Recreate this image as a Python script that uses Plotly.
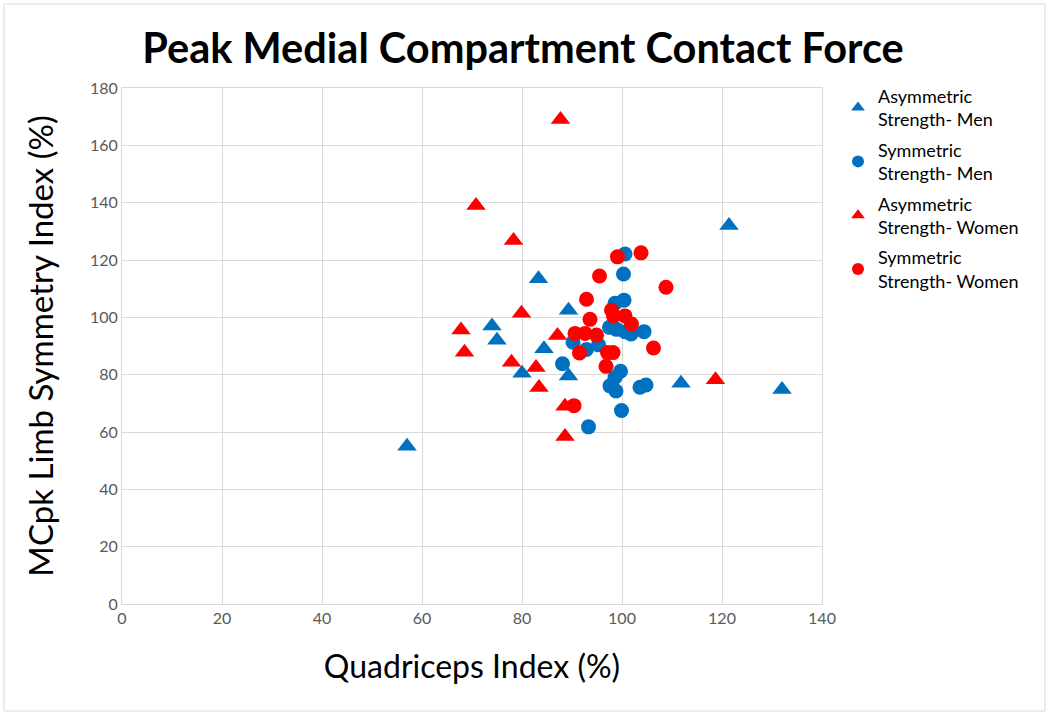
import plotly.graph_objects as go

# Asymmetric Strength - Men (blue triangles)
asym_men_x = [57.0, 74.0, 75.0, 80.0, 83.3, 84.4, 89.3, 89.3, 111.8, 121.4, 132.0]
asym_men_y = [55.0, 97.0, 92.0, 80.5, 113.5, 89.0, 102.5, 79.5, 77.0, 132.0, 74.8]

# Symmetric Strength - Men (blue circles)
sym_men_x = [88.1, 93.3, 90.2, 92.9, 95.3, 97.5, 98.9, 100.6, 101.8, 104.4, 98.6, 100.4,
             100.3, 100.6, 99.7, 98.6, 97.6, 98.8, 103.6, 104.8, 99.9]
sym_men_y = [83.8, 61.8, 91.3, 88.8, 90.4, 96.5, 95.8, 95.0, 94.2, 95.0, 104.9, 106.0,
             115.1, 122.1, 81.2, 79.0, 76.1, 74.3, 75.6, 76.4, 67.5]

# Asymmetric Strength - Women (red triangles)
asym_women_x = [67.8, 68.5, 70.8, 78.3, 79.9, 77.9, 82.8, 83.4, 87.1, 87.7, 88.6, 88.6, 118.7]
asym_women_y = [95.6, 87.8, 139.0, 126.8, 101.4, 84.3, 82.5, 75.5, 93.7, 169.0, 69.0, 58.4, 78.2]

# Symmetric Strength - Women (red circles)
sym_women_x = [99.1, 103.8, 95.5, 108.8, 92.9, 97.9, 98.3, 100.6, 93.6, 101.9, 90.6, 92.6,
               94.9, 91.5, 97.1, 98.2, 106.3, 96.8, 90.4]
sym_women_y = [121.1, 122.5, 114.4, 110.5, 106.3, 102.5, 100.5, 100.5, 99.3, 97.7, 94.4, 94.4,
               93.8, 87.6, 87.7, 87.7, 89.3, 82.9, 69.2]

names = ["Asymmetric<br>Strength- Men", "Symmetric<br>Strength- Men",
         "Asymmetric<br>Strength- Women", "Symmetric<br>Strength- Women"]

BLUE = "#0070C0"
RED = "#FF0000"

fig = go.Figure()
fig.add_trace(go.Scatter(x=asym_men_x, y=asym_men_y, mode="markers", name=names[0], legendgroup="g1",
                         marker=dict(symbol="triangle-up", size=17, color=BLUE)))
fig.add_trace(go.Scatter(x=sym_men_x, y=sym_men_y, mode="markers", name=names[1], legendgroup="g2",
                         marker=dict(symbol="circle", size=15, color=BLUE)))
fig.add_trace(go.Scatter(x=asym_women_x, y=asym_women_y, mode="markers", name=names[2], legendgroup="g3",
                         marker=dict(symbol="triangle-up", size=17, color=RED)))
fig.add_trace(go.Scatter(x=sym_women_x, y=sym_women_y, mode="markers", name=names[3], legendgroup="g4",
                         marker=dict(symbol="circle", size=15, color=RED)))

L, R, T, B = 122, 228, 88, 112
W, H = 1050, 716
pw, ph = W - L - R, H - T - B

fig.update_layout(
    width=W, height=H,
    margin=dict(l=L, r=R, t=T, b=B),
    paper_bgcolor="white", plot_bgcolor="white",
    font=dict(family="Lato, Open Sans, sans-serif", color="#000000"),
    title=dict(text="<b>Peak Medial Compartment Contact Force</b>",
               x=523 / W, xanchor="center", y=1 - 48 / H, yanchor="middle",
               font=dict(size=41.5, color="#000000")),
    showlegend=True,
    legend=dict(x=(838 - L) / pw, y=1.02, xanchor="left", yanchor="top",
                font=dict(size=18, color="#000000"), tracegroupgap=4,
                bgcolor="rgba(0,0,0,0)", itemsizing="constant"),
    xaxis=dict(range=[0, 140], dtick=20, showgrid=True, gridcolor="#D9D9D9", gridwidth=1,
               zeroline=False, showline=True, linecolor="#D9D9D9", mirror=True,
               ticks="", tickfont=dict(size=16, color="#595959"),
               title=dict(text="Quadriceps Index (%)", font=dict(size=32, color="#000000"),
                          standoff=29)),
    yaxis=dict(range=[0, 180], dtick=20, showgrid=True, gridcolor="#D9D9D9", gridwidth=1,
               zeroline=False, showline=True, linecolor="#D9D9D9", mirror=True,
               ticks="", tickfont=dict(size=16, color="#595959"),
               title=dict(text="MCpk Limb Symmetry Index (%)", font=dict(size=33, color="#000000"),
                          standoff=26)),
)

# outer chart border
fig.add_shape(type="rect", xref="paper", yref="paper",
              x0=(4 - L) / pw, x1=(W - 5 - L) / pw,
              y0=-(B - 5) / ph, y1=1 + (T - 4) / ph,
              line=dict(color="#D9D9D9", width=1), fillcolor="rgba(0,0,0,0)", layer="below")

fig.write_html("out.html", config={"displayModeBar": False},
               post_script="document.body.style.margin='0';document.body.style.overflow='hidden';")
